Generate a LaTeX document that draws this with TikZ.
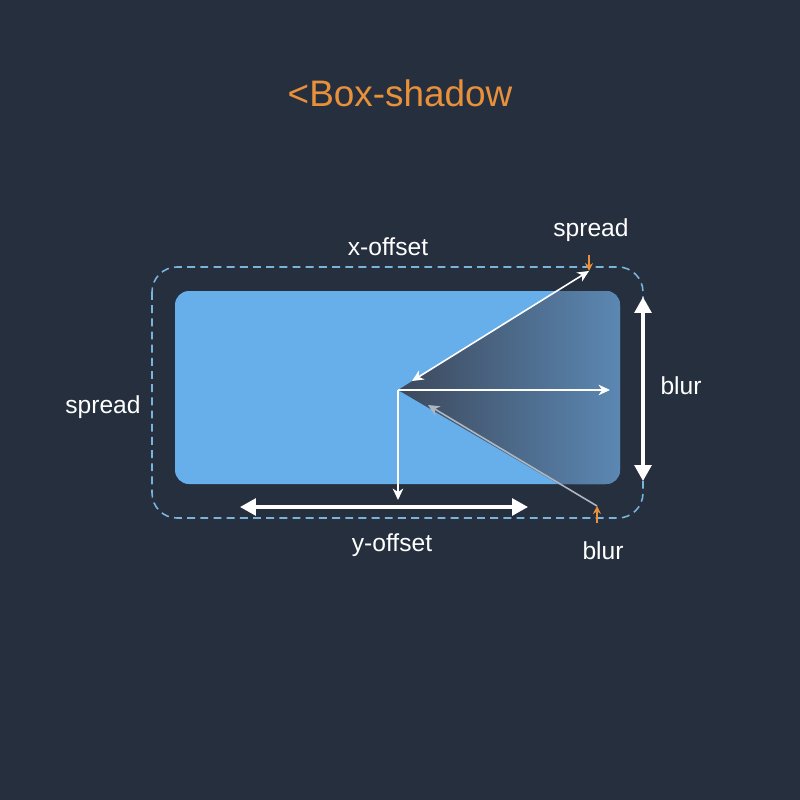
\documentclass[tikz,border=0pt]{standalone}
\usepackage{fontspec}
\setmainfont{Liberation Sans}
\usetikzlibrary{arrows.meta, positioning}

\definecolor{bgnavy}{HTML}{262F3E}
\definecolor{boxblue}{HTML}{66AFEB}
\definecolor{dashblue}{HTML}{7AB4DC}
\definecolor{titleorange}{HTML}{E8903A}
\definecolor{shadowdark}{HTML}{3C485B}
\definecolor{shadowlight}{HTML}{5C89B5}
\definecolor{arrowgray}{HTML}{AEB6C0}

\begin{document}
\begin{tikzpicture}[x = 0.02cm, y = -0.02cm,
	label/.style = {text = white, font = \fontsize{14}{16}\selectfont},
	thin arrow/.style = {white, line width = 0.9pt, -{Stealth[length = 6.5pt, width = 6pt, inset = 2pt]}},
	thick arrow/.style = {white, line width = 1.8pt, {Triangle[length = 9pt, width = 9.5pt]}-{Triangle[length = 9pt, width = 9.5pt]}},
	tick arrow/.style = {titleorange, line width = 1pt, -{Stealth[length = 4.5pt, width = 4.5pt]}}]
							\fill [bgnavy] (0,0) rectangle (800,800);
							\useasboundingbox (0,0) rectangle (800,800);
				
							\node (title) at (400,93) [text = titleorange, font = \fontsize{21}{24}\selectfont] {<Box-shadow};
				
							% shadow outline and box
							\draw [dashblue, line width = 0.9pt, dash pattern = on 4.5pt off 3pt, rounded corners = 0.5cm] (152,267) rectangle (643,518);
							\fill [boxblue, rounded corners = 0.28cm] (175,291) rectangle (620,484);
				
							\coordinate (apex) at (398,390);
							\coordinate (spreadtip) at (589,271);
							\coordinate (blurtip) at (597,506);
				
							\begin{scope}
								\clip [rounded corners = 0.28cm] (175,291) rectangle (620,484);
								\clip (apex) -- (640,239) -- (640,532) -- cycle;
								\shade [left color = shadowdark, right color = shadowlight] (398,280) rectangle (625,490);
							\end{scope}
				
							\coordinate (spreadin) at (412,381);
							\coordinate (xend) at (610,390);
							\coordinate (yend) at (398,500);
							\coordinate (blurin) at (428,405);
				
							\draw [thin arrow, {Stealth[length = 6.5pt, width = 6pt, inset = 2pt]}-{Stealth[length = 6.5pt, width = 6pt, inset = 2pt]}] (spreadin) -- (spreadtip);
							\draw [thin arrow] (apex) -- (xend);
							\draw [thin arrow] (apex) -- (yend);
							\draw [thin arrow, arrowgray] (blurtip) -- (blurin);
				
							\coordinate (yleft) at (240,507);
							\coordinate (yright) at (528,507);
							\coordinate (blurtop) at (643,297);
							\coordinate (blurbottom) at (643,481);
							\draw [thick arrow] (yleft) -- (yright);
							\draw [thick arrow] (blurtop) -- (blurbottom);
				
							\coordinate (toptick) at (589,255);
							\coordinate (bottomtick) at (597,523);
							\draw [tick arrow] (toptick) -- (spreadtip);
							\draw [tick arrow] (bottomtick) -- (blurtip);
				
							\node (xlabel) at (388,247) [label] {x-offset};
							\node (spreadtop) at (591,230) [label] {spread};
							\node (blurright) at (681,386) [label] {blur};
							\node (spreadleft) at (103,407) [label] {spread};
							\node (ylabel) at (392,545) [label] {y-offset};
							\node (blurlow) at (603,551) [label] {blur};
						\end{tikzpicture}
\end{document}
